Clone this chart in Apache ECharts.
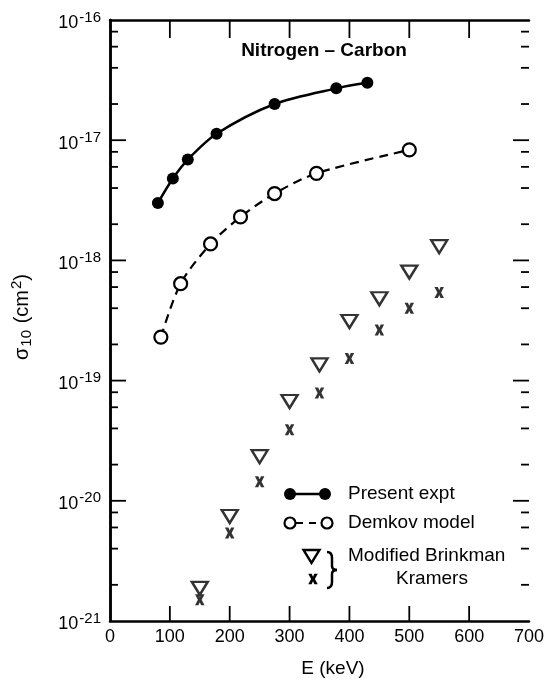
<!doctype html>
<html>
<head>
<meta charset="utf-8">
<title>Nitrogen - Carbon</title>
<script src="https://cdn.jsdelivr.net/npm/echarts@6/dist/echarts.min.js"></script>
<style>
  html, body { margin: 0; padding: 0; background: #fff; }
  #chart { width: 550px; height: 679px; }
</style>
</head>
<body>
<div id="chart"></div>
<script>
// data (sigma in cm^2, E in keV)
var energyPresent = [80, 105, 130, 178, 275, 378, 430];
var sigmaPresent = [3.0e-18, 4.8e-18, 6.9e-18, 1.13e-17, 2.0e-17, 2.7e-17, 3.0e-17];

var energyDemkov = [85, 118, 168, 218, 275, 345, 500];
var sigmaDemkov = [2.3e-19, 6.4e-19, 1.37e-18, 2.3e-18, 3.6e-18, 5.3e-18, 8.3e-18];

var energyTheory = [150, 200, 250, 300, 350, 400, 450, 500, 550];
var sigmaBrinkman = [1.87e-21, 7.4e-21, 2.33e-20, 6.7e-20, 1.35e-19, 3.1e-19, 4.8e-19, 8.0e-19, 1.3e-18];
var sigmaKramers = [1.5e-21, 5.4e-21, 1.44e-20, 3.9e-20, 7.9e-20, 1.53e-19, 2.64e-19, 4.0e-19, 5.4e-19];

// tick positions for the frame
var xTicks = [100, 200, 300, 400, 500, 600];
var innerDecades = [-20, -19, -18, -17];
var decades = [-21, -20, -19, -18, -17];
var minorMultipliers = [2, 4, 6, 8];

// echarts rounds numbers to 20 decimals, so the axis works in units of 1e-21 cm^2
var UNIT_EXP = -21;
var UNIT = 1e-21;
var Y_MIN = 1, Y_MAX = 1e5;
var X_MIN = 0, X_MAX = 700;

function pairs(xs, ys) {
  return xs.map(function (x, i) { return [x, ys[i] / UNIT]; });
}

var FONT = 'Liberation Sans, Arial, sans-serif';
var xMark = 'path://M0,0L3.6,0L5,2.8L6.4,0L10,0L7,5L10,10L6.4,10L5,7.2L3.6,10L0,10L3,5Z';

// x glyph for the legend, as polygon points around a centre
function xGlyph(cx, cy) {
  var p = [[0, 0], [3.6, 0], [5, 2.8], [6.4, 0], [10, 0], [7, 5], [10, 10], [6.4, 10], [5, 7.2], [3.6, 10], [0, 10], [3, 5]];
  return p.map(function (q) { return [cx + (q[0] - 5) * 0.95, cy + (q[1] - 5) * 1.05]; });
}

var chart = echarts.init(document.getElementById('chart'));

var staticGraphic = [
  // title inside the plot
  {
    type: 'text', x: 324, y: 51,
    style: { text: 'Nitrogen \u2013 Carbon', fill: '#000', font: 'bold 19px ' + FONT, align: 'center', verticalAlign: 'middle' }
  },
  // axis names
  {
    type: 'text', x: 333, y: 669,
    style: { text: 'E (keV)', fill: '#000', font: '19px ' + FONT, align: 'center', verticalAlign: 'middle' }
  },
  {
    type: 'text', x: 22, y: 317, rotation: Math.PI / 2,
    style: {
      text: '{a|\u03c3}{b|10}  {a|(cm}{c|2}{a|)}',
      align: 'center', verticalAlign: 'middle',
      rich: {
        a: { fill: '#000', fontFamily: FONT, fontSize: 20 },
        b: { fill: '#000', fontFamily: FONT, fontSize: 15, padding: [9, 0, 0, 1] },
        c: { fill: '#000', fontFamily: FONT, fontSize: 15, padding: [0, 0, 10, 1] }
      }
    }
  },
  // legend: Present expt
  { type: 'line', shape: { x1: 290, y1: 494, x2: 325, y2: 494 }, style: { stroke: '#000', lineWidth: 2.5 } },
  { type: 'circle', shape: { cx: 290, cy: 494, r: 6 }, style: { fill: '#000' } },
  { type: 'circle', shape: { cx: 325, cy: 494, r: 6 }, style: { fill: '#000' } },
  { type: 'text', x: 348, y: 494, style: { text: 'Present expt', fill: '#000', font: '19px ' + FONT, verticalAlign: 'middle' } },
  // legend: Demkov model
  { type: 'line', shape: { x1: 296, y1: 523, x2: 321, y2: 523 }, style: { stroke: '#000', lineWidth: 2.2, lineDash: [7, 6] } },
  { type: 'circle', shape: { cx: 290, cy: 523, r: 5.5 }, style: { fill: '#fff', stroke: '#000', lineWidth: 2.2 } },
  { type: 'circle', shape: { cx: 327, cy: 523, r: 5.5 }, style: { fill: '#fff', stroke: '#000', lineWidth: 2.2 } },
  { type: 'text', x: 348, y: 523, style: { text: 'Demkov model', fill: '#000', font: '19px ' + FONT, verticalAlign: 'middle' } },
  // legend: Modified Brinkman / Kramers
  { type: 'polygon', shape: { points: [[303.5, 550], [319.5, 550], [311.5, 563]] }, style: { fill: '#fff', stroke: '#000', lineWidth: 2.4 } },
  { type: 'polygon', shape: { points: xGlyph(313, 579) }, style: { fill: '#000' } },
  { type: 'bezierCurve', shape: { x1: 327, y1: 552, cpx1: 332, cpy1: 552, x2: 332, y2: 558 }, style: { stroke: '#000', lineWidth: 2.5, fill: null } },
  { type: 'line', shape: { x1: 332, y1: 558, x2: 332, y2: 566 }, style: { stroke: '#000', lineWidth: 2.5 } },
  { type: 'bezierCurve', shape: { x1: 332, y1: 566, cpx1: 332, cpy1: 570, x2: 337, y2: 570 }, style: { stroke: '#000', lineWidth: 2.5, fill: null } },
  { type: 'bezierCurve', shape: { x1: 337, y1: 570, cpx1: 332, cpy1: 570, x2: 332, y2: 574 }, style: { stroke: '#000', lineWidth: 2.5, fill: null } },
  { type: 'line', shape: { x1: 332, y1: 574, x2: 332, y2: 582 }, style: { stroke: '#000', lineWidth: 2.5 } },
  { type: 'bezierCurve', shape: { x1: 332, y1: 582, cpx1: 332, cpy1: 588, x2: 327, y2: 588 }, style: { stroke: '#000', lineWidth: 2.5, fill: null } },
  { type: 'text', x: 348, y: 556, style: { text: 'Modified Brinkman', fill: '#000', font: '19px ' + FONT, verticalAlign: 'middle' } },
  { type: 'text', x: 432, y: 579, style: { text: 'Kramers', fill: '#000', font: '19px ' + FONT, align: 'center', verticalAlign: 'middle' } }
];

var option = {
  animation: false,
  backgroundColor: '#fff',
  grid: { left: 110, right: 21, top: 20, bottom: 58 },
  xAxis: [
    {
      type: 'value', min: X_MIN, max: X_MAX, interval: 100,
      axisLine: { show: true, lineStyle: { color: '#000', width: 2.5 } },
      axisTick: { show: false },
      axisLabel: { color: '#000', fontFamily: FONT, fontSize: 18, margin: 7 },
      splitLine: { show: false }
    },
    {
      type: 'value', min: X_MIN, max: X_MAX, interval: 100, position: 'top',
      axisLine: { show: true, lineStyle: { color: '#000', width: 2.5 } },
      axisTick: { show: false },
      axisLabel: { show: false },
      splitLine: { show: false }
    }
  ],
  yAxis: [
    {
      type: 'log', logBase: 10, min: Y_MIN, max: Y_MAX,
      axisLine: { show: true, lineStyle: { color: '#000', width: 2.5 } },
      axisTick: { show: false },
      axisLabel: {
        margin: 9,
        formatter: function (v) {
          var e = Math.round(Math.log10(v)) + UNIT_EXP;
          return '{b|10}{s|' + e + '}';
        },
        rich: {
          b: { color: '#000', fontFamily: FONT, fontSize: 18, padding: [7, 0, 0, 0] },
          s: { color: '#000', fontFamily: FONT, fontSize: 15, padding: [0, 0, 5, 1] }
        }
      },
      splitLine: { show: false }
    },
    {
      type: 'log', logBase: 10, min: Y_MIN, max: Y_MAX, position: 'right',
      axisLine: { show: true, lineStyle: { color: '#000', width: 2.5 } },
      axisTick: { show: false },
      axisLabel: { show: false },
      splitLine: { show: false }
    }
  ],
  series: [
    {
      name: 'Present expt',
      type: 'line',
      smooth: 0.3,
      data: pairs(energyPresent, sigmaPresent),
      symbol: 'circle', symbolSize: 12,
      lineStyle: { color: '#000', width: 2.5 },
      itemStyle: { color: '#000' },
      z: 3
    },
    {
      name: 'Demkov model',
      type: 'line',
      smooth: 0.3,
      data: pairs(energyDemkov, sigmaDemkov),
      symbol: 'circle', symbolSize: 13, showAllSymbol: true,
      lineStyle: { color: '#000', width: 2.2, type: [9, 6] },
      itemStyle: { color: '#fff', borderColor: '#000', borderWidth: 2.2 },
      z: 3
    },
    {
      name: 'Modified Brinkman',
      type: 'scatter',
      data: pairs(energyTheory, sigmaBrinkman),
      symbol: 'triangle', symbolRotate: 180, symbolSize: [16, 13],
      itemStyle: { color: '#fff', borderColor: '#000', borderWidth: 2.4 },
      z: 3
    },
    {
      name: 'Kramers',
      type: 'scatter',
      data: pairs(energyTheory, sigmaKramers),
      symbol: xMark, symbolSize: [9.5, 11],
      itemStyle: { color: '#000' },
      z: 4
    }
  ],
  graphic: staticGraphic
};

chart.setOption(option);

// frame ticks placed through the chart's own scales
var tickGraphic = [];
function tickLine(x1, y1, x2, y2) {
  tickGraphic.push({ type: 'line', z: 10, shape: { x1: x1, y1: y1, x2: x2, y2: y2 }, style: { stroke: '#000', lineWidth: 1.8 } });
}
function sideTick(v, len) {
  var pl = chart.convertToPixel({ gridIndex: 0 }, [X_MIN, v]);
  var pr = chart.convertToPixel({ gridIndex: 0 }, [X_MAX, v]);
  tickLine(pl[0], pl[1], pl[0] + len, pl[1]);
  tickLine(pr[0], pr[1], pr[0] - len, pr[1]);
}
innerDecades.forEach(function (d) {
  sideTick(Math.pow(10, d - UNIT_EXP), 16);
});
decades.forEach(function (d) {
  minorMultipliers.forEach(function (m) {
    sideTick(m * Math.pow(10, d - UNIT_EXP), 8);
  });
});
xTicks.forEach(function (t) {
  var pb = chart.convertToPixel({ gridIndex: 0 }, [t, Y_MIN]);
  var pt = chart.convertToPixel({ gridIndex: 0 }, [t, Y_MAX]);
  tickLine(pb[0], pb[1], pb[0], pb[1] - 15);
  tickLine(pt[0], pt[1], pt[0], pt[1] + 18);
});

chart.setOption({ graphic: staticGraphic.concat(tickGraphic) });
</script>
</body>
</html>
